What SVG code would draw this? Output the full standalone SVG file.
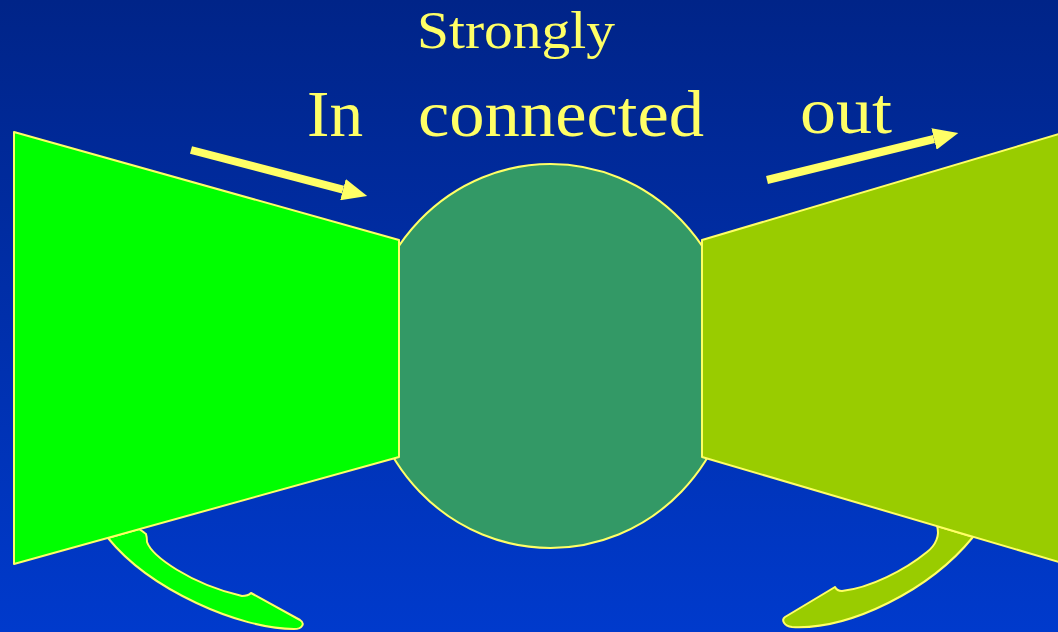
<svg xmlns="http://www.w3.org/2000/svg" width="1058" height="632" viewBox="0 0 1058 632">
  <defs>
    <linearGradient id="bg" x1="0" y1="0" x2="0" y2="1">
      <stop offset="0" stop-color="#002488"/>
      <stop offset="1" stop-color="#003acc"/>
    </linearGradient>
    <marker id="head" viewBox="0 0 26 22" refX="0" refY="11" markerWidth="26" markerHeight="22" markerUnits="userSpaceOnUse" orient="auto">
      <path d="M0,0 L25,11 L0,22 Z" fill="#ffff66"/>
    </marker>
    <style>
      .shape { stroke: #ffff66; stroke-width: 2; stroke-linejoin: round; }
      .label { font-family: "Liberation Serif", "DejaVu Serif", serif; fill: #ffff66; }
      .arrow { stroke: #ffff66; stroke-width: 8; fill: none; }
    </style>
  </defs>
  <rect width="1058" height="632" fill="url(#bg)"/>

  <g id="loop-in">
    <path class="shape" fill="#00ff00" d="M139,529 C142,531 145,533 146,534 C147,537 147,540 147,542 C152,556 190,584 242,596 C246,596 249,595 251,593 L300,620 C305,623 303,629 294,629 C240,629 150,590 108,538 Z"/>
  </g>
  <g id="loop-out">
    <path class="shape" fill="#99cc00" d="M937,526 C940,535 936,545 927,552 C905,570 870,588 842,591 C838,591 836,589 835,587 L785,617 C781,620 784,626 792,627 C850,630 930,590 973,537 Z"/>
  </g>

  <g id="scc">
    <ellipse class="shape" fill="#339966" cx="550.5" cy="356" rx="185" ry="192"/>
  </g>
  <g id="in-set">
    <polygon class="shape" fill="#00ff00" points="14,132 399,240 399,457 14,564"/>
  </g>
  <g id="out-set">
    <polygon class="shape" fill="#99cc00" points="702,240 1059,134 1059,562 702,457"/>
  </g>

  <g id="connectors">
    <line class="arrow" x1="191" y1="150" x2="343" y2="189.7" marker-end="url(#head)"/>
    <line class="arrow" x1="767" y1="180" x2="934" y2="139" marker-end="url(#head)"/>
  </g>

  <g id="labels">
    <text class="label" x="417" y="48" font-size="53" textLength="198" lengthAdjust="spacingAndGlyphs">Strongly</text>
    <text class="label" x="307" y="136" font-size="66" textLength="56" lengthAdjust="spacingAndGlyphs">In</text>
    <text class="label" x="418" y="136" font-size="66" textLength="286" lengthAdjust="spacingAndGlyphs">connected</text>
    <text class="label" x="800" y="133" font-size="66" textLength="92" lengthAdjust="spacingAndGlyphs">out</text>
  </g>
</svg>
